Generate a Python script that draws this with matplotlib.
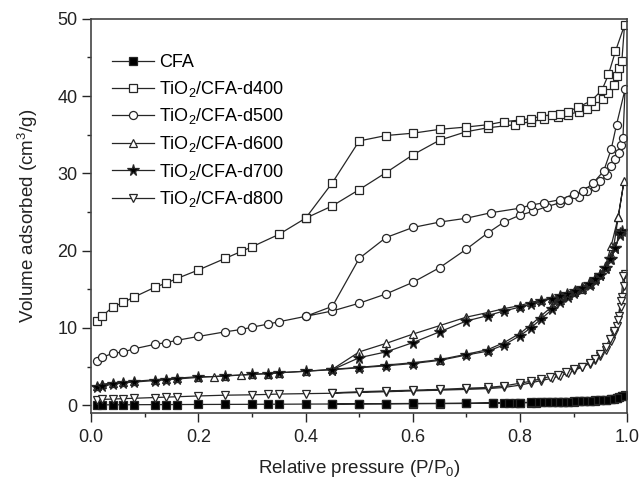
import numpy as np
import matplotlib
matplotlib.use("Agg")
import matplotlib.pyplot as plt

plt.rcParams['font.family'] = ['Liberation Sans', 'DejaVu Sans']
plt.rcParams['mathtext.default'] = 'regular'

# CFA
cfa_x_ads = [0.01, 0.02, 0.04, 0.06, 0.08, 0.12, 0.14, 0.16, 0.20, 0.25, 0.30, 0.33, 0.35, 0.40,
             0.45, 0.50, 0.55, 0.60, 0.65, 0.70, 0.75, 0.77, 0.79, 0.80, 0.82, 0.83, 0.845, 0.86,
             0.87, 0.88, 0.89, 0.90, 0.91, 0.92, 0.93, 0.94, 0.95, 0.96, 0.97, 0.975, 0.98, 0.985,
             0.99, 0.995]
cfa_y_ads = [0.05, 0.05, 0.06, 0.06, 0.07, 0.08, 0.08, 0.09, 0.10, 0.11, 0.12, 0.13, 0.13, 0.15,
             0.16, 0.17, 0.18, 0.20, 0.21, 0.23, 0.27, 0.29, 0.31, 0.32, 0.34, 0.35, 0.37, 0.39,
             0.40, 0.42, 0.44, 0.46, 0.49, 0.52, 0.55, 0.59, 0.64, 0.70, 0.80, 0.87, 0.95, 1.05,
             1.20, 1.35]
cfa_x_des = [0.99, 0.98, 0.97, 0.96, 0.95, 0.94, 0.93, 0.92, 0.91, 0.90, 0.89, 0.88, 0.87, 0.86,
             0.85, 0.84, 0.83, 0.82, 0.80, 0.78, 0.75, 0.70, 0.65, 0.60, 0.55, 0.50, 0.45]
cfa_y_des = [1.25, 0.99, 0.84, 0.74, 0.67, 0.62, 0.58, 0.55, 0.52, 0.49, 0.47, 0.45, 0.43, 0.42,
             0.41, 0.40, 0.38, 0.37, 0.35, 0.32, 0.30, 0.26, 0.24, 0.23, 0.21, 0.20, 0.18]

# TiO2/CFA-d400
d400_x_ads = [0.01, 0.02, 0.04, 0.06, 0.08, 0.12, 0.14, 0.16, 0.20, 0.25, 0.28, 0.30, 0.35, 0.40,
              0.45, 0.50, 0.55, 0.60, 0.65, 0.70, 0.74, 0.79, 0.82, 0.845, 0.87, 0.89, 0.91, 0.925,
              0.94, 0.955, 0.965, 0.975, 0.98, 0.985, 0.99, 0.995]
d400_y_ads = [10.9, 11.5, 12.7, 13.3, 14.0, 15.3, 15.8, 16.4, 17.5, 19.0, 19.9, 20.5, 22.1, 24.2,
              25.8, 27.9, 30.1, 32.4, 34.3, 35.4, 35.9, 36.3, 36.7, 37.0, 37.3, 37.6, 38.0, 38.3,
              38.7, 39.6, 40.4, 41.5, 42.6, 43.6, 44.6, 49.2]
d400_x_des = [0.978, 0.965, 0.953, 0.933, 0.909, 0.89, 0.875, 0.86, 0.84, 0.82, 0.80, 0.77, 0.74,
              0.70, 0.65, 0.60, 0.55, 0.50, 0.45, 0.40]
d400_y_des = [45.8, 42.8, 40.8, 39.4, 38.6, 38.0, 37.7, 37.6, 37.4, 37.1, 36.9, 36.7, 36.3,
              36.0, 35.7, 35.2, 34.9, 34.2, 28.8, 24.2]

# TiO2/CFA-d500
d500_x_ads = [0.01, 0.02, 0.04, 0.06, 0.08, 0.12, 0.14, 0.16, 0.20, 0.25, 0.28, 0.30, 0.33, 0.35,
              0.40, 0.45, 0.50, 0.55, 0.60, 0.65, 0.70, 0.74, 0.77, 0.80, 0.825, 0.85, 0.875, 0.89,
              0.91, 0.925, 0.94, 0.95, 0.962, 0.97, 0.978, 0.984, 0.989, 0.992, 0.996]
d500_y_ads = [5.7, 6.2, 6.7, 6.9, 7.3, 7.9, 8.1, 8.4, 8.9, 9.5, 9.8, 10.1, 10.5, 10.8,
              11.5, 12.2, 13.2, 14.4, 15.9, 17.8, 20.2, 22.3, 23.7, 24.6, 25.1, 25.7, 26.2, 26.6,
              27.0, 27.7, 28.3, 29.0, 29.8, 30.9, 31.8, 32.6, 33.7, 34.6, 40.9]
d500_x_des = [0.98, 0.97, 0.956, 0.937, 0.918, 0.90, 0.875, 0.845, 0.82, 0.80, 0.745, 0.70,
              0.65, 0.60, 0.55, 0.50, 0.45, 0.40]
d500_y_des = [36.3, 33.1, 30.3, 28.8, 27.7, 27.3, 26.6, 26.2, 25.9, 25.5, 24.9, 24.2,
              23.7, 23.0, 21.7, 19.0, 12.8, 11.5]

# TiO2/CFA-d600
d600_x_ads = [0.01, 0.02, 0.04, 0.06, 0.08, 0.12, 0.14, 0.16, 0.20, 0.23, 0.25, 0.28, 0.30, 0.33,
              0.35, 0.40, 0.45, 0.50, 0.55, 0.60, 0.65, 0.70, 0.74, 0.77, 0.80, 0.82, 0.84, 0.86,
              0.875, 0.89, 0.90, 0.915, 0.93, 0.94, 0.95, 0.96, 0.97, 0.975, 0.983, 0.994]
d600_y_ads = [2.5, 2.7, 2.9, 3.0, 3.1, 3.3, 3.4, 3.5, 3.7, 3.7, 3.8, 3.9, 4.0, 4.1,
              4.2, 4.4, 4.65, 4.9, 5.2, 5.5, 5.9, 6.6, 7.2, 8.1, 9.3, 10.4, 11.6, 12.8,
              13.6, 14.2, 14.6, 15.1, 15.7, 16.3, 17.0, 18.0, 19.4, 20.6, 24.3, 29.0]
d600_x_des = [0.983, 0.97, 0.96, 0.95, 0.94, 0.928, 0.915, 0.903, 0.888, 0.875, 0.86, 0.84,
              0.82, 0.80, 0.77, 0.74, 0.70, 0.65, 0.60, 0.55, 0.50, 0.45]
d600_y_des = [24.3, 20.6, 18.2, 17.0, 16.4, 15.8, 15.3, 14.9, 14.5, 14.2, 13.9, 13.6,
              13.3, 12.9, 12.5, 12.0, 11.4, 10.3, 9.2, 8.0, 6.9, 4.65]

# TiO2/CFA-d700
d700_x_ads = [0.01, 0.02, 0.04, 0.06, 0.08, 0.12, 0.14, 0.16, 0.20, 0.25, 0.30, 0.33, 0.35, 0.40,
              0.45, 0.50, 0.55, 0.60, 0.65, 0.70, 0.74, 0.77, 0.80, 0.82, 0.84, 0.86, 0.875, 0.89,
              0.90, 0.915, 0.93, 0.94, 0.95, 0.96, 0.97, 0.978, 0.986, 0.99]
d700_y_ads = [2.4, 2.5, 2.7, 2.9, 3.0, 3.2, 3.3, 3.4, 3.6, 3.8, 4.0, 4.1, 4.2, 4.4,
              4.6, 4.85, 5.1, 5.4, 5.8, 6.5, 7.0, 7.8, 9.0, 10.0, 11.2, 12.4, 13.3, 14.0,
              14.5, 15.0, 15.6, 16.2, 16.9, 17.8, 18.9, 20.4, 22.0, 22.6]
d700_x_des = [0.986, 0.978, 0.968, 0.959, 0.95, 0.94, 0.928, 0.915, 0.903, 0.888, 0.875, 0.86,
              0.84, 0.82, 0.80, 0.77, 0.74, 0.70, 0.65, 0.60, 0.55, 0.50, 0.45]
d700_y_des = [22.3, 20.4, 18.9, 17.8, 16.9, 16.3, 15.7, 15.2, 14.8, 14.4, 14.1, 13.8,
              13.5, 13.1, 12.7, 12.2, 11.6, 10.9, 9.5, 8.1, 6.9, 6.15, 4.6]

# TiO2/CFA-d800
d800_x_ads = [0.01, 0.02, 0.04, 0.06, 0.08, 0.12, 0.14, 0.16, 0.20, 0.25, 0.30, 0.33, 0.35, 0.40,
              0.45, 0.50, 0.55, 0.60, 0.65, 0.70, 0.74, 0.77, 0.80, 0.82, 0.84, 0.86, 0.875, 0.89,
              0.90, 0.915, 0.93, 0.94, 0.95, 0.96, 0.97, 0.975, 0.98, 0.985, 0.988, 0.991, 0.994,
              0.996]
d800_y_ads = [0.7, 0.75, 0.8, 0.85, 0.9, 1.0, 1.05, 1.1, 1.2, 1.3, 1.35, 1.4, 1.45, 1.5,
              1.55, 1.65, 1.75, 1.85, 1.95, 2.05, 2.15, 2.3, 2.6, 2.9, 3.2, 3.5, 3.8, 4.2,
              4.5, 4.9, 5.4, 5.8, 6.4, 7.2, 8.3, 9.3, 10.3, 11.6, 12.7, 14.0, 15.4,
              17.0]
d800_x_des = [0.993, 0.988, 0.982, 0.975, 0.968, 0.96, 0.95, 0.94, 0.93, 0.915, 0.90, 0.885,
              0.87, 0.855, 0.84, 0.82, 0.80, 0.77, 0.74, 0.70, 0.65, 0.60, 0.55, 0.50, 0.45]
d800_y_des = [16.7, 13.5, 11.0, 9.6, 8.6, 7.6, 6.6, 6.0, 5.5, 5.0, 4.65, 4.3,
              3.95, 3.7, 3.45, 3.1, 2.85, 2.5, 2.3, 2.2, 2.05, 1.95, 1.85, 1.75, 1.6]

etiquetas = ['CFA', 'TiO$_2$/CFA-d400', 'TiO$_2$/CFA-d500', 'TiO$_2$/CFA-d600',
             'TiO$_2$/CFA-d700', 'TiO$_2$/CFA-d800']

series = [
    (cfa_x_ads, cfa_y_ads, cfa_x_des, cfa_y_des, 's', 'black', 5.5),
    (d400_x_ads, d400_y_ads, d400_x_des, d400_y_des, 's', 'white', 5.5),
    (d500_x_ads, d500_y_ads, d500_x_des, d500_y_des, 'o', 'white', 5.8),
    (d600_x_ads, d600_y_ads, d600_x_des, d600_y_des, '^', 'white', 6.2),
    (d700_x_ads, d700_y_ads, d700_x_des, d700_y_des, '*', 'black', 8.5),
    (d800_x_ads, d800_y_ads, d800_x_des, d800_y_des, 'v', 'white', 6.2),
]

color = '#262626'

fig = plt.figure(figsize=(6.42, 4.83), dpi=100)
ax = fig.add_axes([0.142, 0.145, 0.835, 0.816])

for (xa, ya, xd, yd, m, fc, ms), lab in zip(series, etiquetas):
    xs = np.concatenate([xa, xd])
    ys = np.concatenate([ya, yd])
    ax.plot(xs, ys, '-', color=color, lw=0.9, marker=m, ms=ms,
            mfc=fc, mec=color, mew=0.9, label=lab)

ax.set_xlim(0.0, 1.0)
ax.set_ylim(-1, 50)
ax.set_xticks(np.arange(0, 1.01, 0.2))
ax.set_xticks(np.arange(0.1, 1.0, 0.2), minor=True)
ax.set_yticks(np.arange(0, 51, 10))
ax.set_yticks(np.arange(5, 50, 10), minor=True)
ax.xaxis.set_major_formatter(matplotlib.ticker.FormatStrFormatter('%.1f'))

ax.tick_params(which='both', direction='out', top=False, right=False,
               labelsize=13, color=color, labelcolor='#222222', width=1.0)
ax.tick_params(which='major', length=6.5, pad=3.5)
ax.tick_params(which='minor', length=3)
ax.tick_params(axis='x', which='major', pad=5)
for s in ax.spines.values():
    s.set_color('#444444')
    s.set_linewidth(1.2)

ax.set_xlabel('Relative pressure (P/P$_0$)', fontsize=13.5, color='#222222', labelpad=9)
ax.set_ylabel('Volume adsorbed (cm$^3$/g)', fontsize=13.5, color='#222222', labelpad=12)

ax.legend(loc='upper left', bbox_to_anchor=(0.039, 0.91), frameon=False, fontsize=13,
          handlelength=2.3, handletextpad=0.28, labelspacing=0.42, borderaxespad=0.0,
          borderpad=0.0)

plt.savefig('out.png', dpi=100)
